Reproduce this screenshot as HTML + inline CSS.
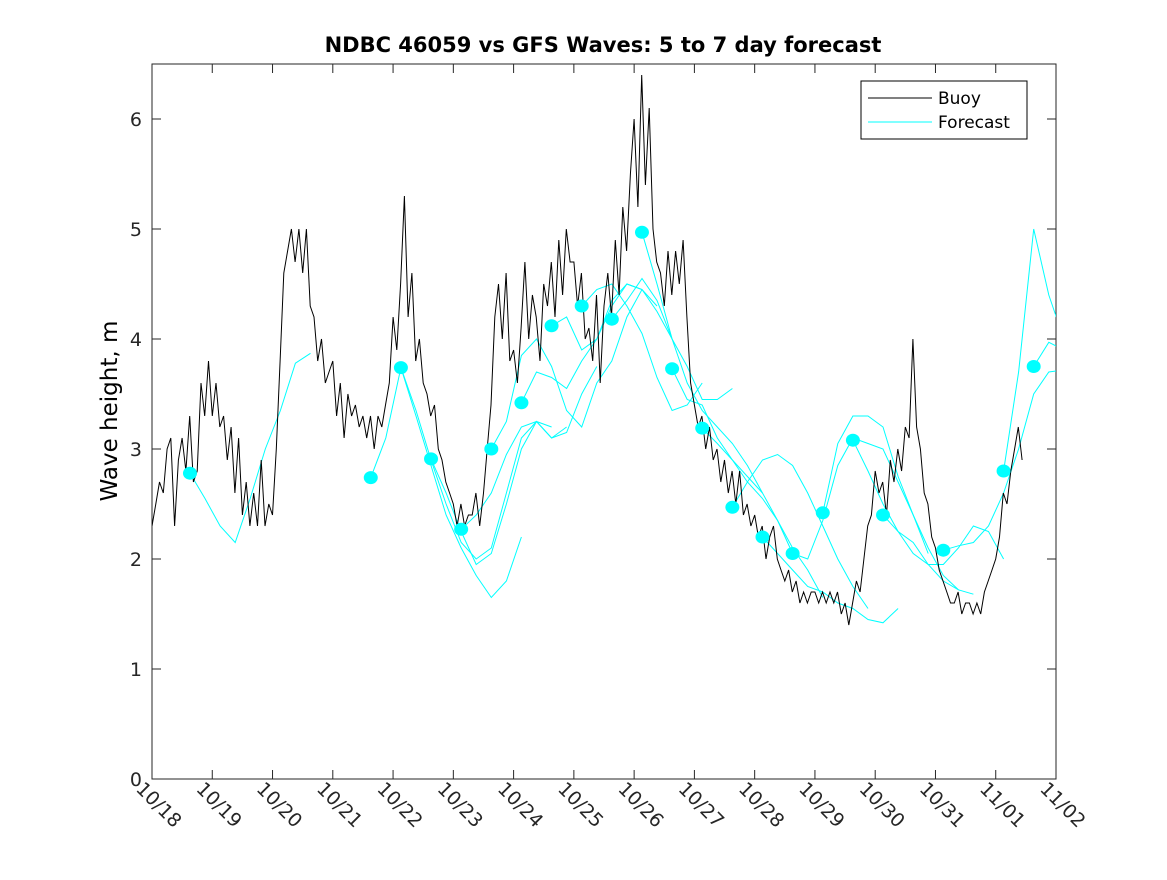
<!DOCTYPE html>
<html><head><meta charset="utf-8">
<style>
body{margin:0;background:#fff;}
svg text{font-family:"DejaVu Sans","Liberation Sans",sans-serif;}
</style></head>
<body>
<svg id="chart" width="1167" height="875" viewBox="0 0 1167 875" xmlns="http://www.w3.org/2000/svg">
<rect width="1167" height="875" fill="#fff"/>
<text x="603" y="52" text-anchor="middle" font-size="21" font-weight="bold">NDBC 46059 vs GFS Waves: 5 to 7 day forecast</text>
<text transform="translate(117,411) rotate(-90)" text-anchor="middle" font-size="23">Wave height, m</text>
<g id="axes"></g>
<g id="series"></g>
<g>
<rect x="861" y="81" width="166" height="58" fill="#fff" stroke="#000" stroke-width="1"/>
<line x1="868" y1="98" x2="932" y2="98" stroke="#000" stroke-width="1"/>
<text x="938" y="104" font-size="17">Buoy</text>
<line x1="868" y1="122" x2="932" y2="122" stroke="#00ffff" stroke-width="1"/>
<text x="938" y="128" font-size="17">Forecast</text>
</g>
</svg>
<script>
const xTickLabels=["10/18","10/19","10/20","10/21","10/22","10/23","10/24","10/25","10/26","10/27","10/28","10/29","10/30","10/31","11/01","11/02"];
const yTicks=[0,1,2,3,4,5,6];
const buoyStep=0.0625;
const buoyValues=[2.3,2.5,2.7,2.6,3.0,3.1,2.3,2.9,3.1,2.8,3.3,2.7,2.8,3.6,3.3,3.8,
3.3,3.6,3.2,3.3,2.9,3.2,2.6,3.1,2.4,2.7,2.3,2.6,2.3,2.9,2.3,2.5,
2.4,3.0,3.8,4.6,4.8,5.0,4.7,5.0,4.6,5.0,4.3,4.2,3.8,4.0,3.6,3.7,
3.8,3.3,3.6,3.1,3.5,3.3,3.4,3.2,3.3,3.1,3.3,3.0,3.3,3.2,3.4,3.6,
4.2,3.9,4.5,5.3,4.2,4.6,3.8,4.0,3.6,3.5,3.3,3.4,3.0,2.9,2.7,2.6,
2.5,2.3,2.5,2.3,2.4,2.4,2.6,2.3,2.6,3.0,3.4,4.2,4.5,4.0,4.6,3.8,
3.9,3.6,4.1,4.7,4.0,4.4,4.2,3.8,4.5,4.3,4.7,4.2,4.9,4.4,5.0,4.7,
4.7,4.3,4.6,4.0,4.1,3.8,4.4,3.6,4.3,4.6,4.2,4.9,4.4,5.2,4.8,5.5,
6.0,5.2,6.4,5.4,6.1,5.0,4.7,4.6,4.3,4.8,4.4,4.8,4.5,4.9,4.2,3.6,
3.4,3.2,3.3,3.0,3.2,2.9,3.0,2.7,2.9,2.6,2.8,2.5,2.8,2.4,2.5,2.3,
2.4,2.2,2.3,2.0,2.2,2.3,2.0,1.9,1.8,1.9,1.7,1.8,1.6,1.7,1.6,1.7,
1.7,1.6,1.7,1.6,1.7,1.6,1.7,1.5,1.6,1.4,1.6,1.8,1.7,2.0,2.3,2.4,
2.8,2.6,2.7,2.4,2.9,2.7,3.0,2.8,3.2,3.1,4.0,3.2,3.0,2.6,2.5,2.2,
2.1,1.9,1.8,1.7,1.6,1.6,1.7,1.5,1.6,1.6,1.5,1.6,1.5,1.7,1.8,1.9,
2.0,2.2,2.6,2.5,2.8,3.0,3.2,2.9];
const fcStep=0.25;
const fcStarts=[0.63,3.63,4.13,4.63,5.13,5.63,6.13,6.63,7.13,7.63,8.13,8.63,9.13,9.63,10.13,10.63,11.13,11.63,12.13,13.13,14.13,14.63];
const fcValues=[
[2.78,2.55,2.3,2.15,2.55,3.0,3.35,3.78,3.87],
[2.74,3.1,3.74,3.3,2.85,2.4,2.1,1.85,1.65,1.8,2.2],
[3.74,3.35,2.9,2.5,2.15,2.0,2.1,2.6,3.1,3.25,3.2],
[2.91,2.6,2.25,1.95,2.05,2.5,3.0,3.25,3.1,3.2],
[2.27,2.4,2.6,2.95,3.2,3.25,3.1,3.15,3.5,3.75],
[3.0,3.25,3.85,4.0,3.75,3.35,3.2,3.6,3.8,4.2,4.45],
[3.42,3.7,3.65,3.55,3.8,4.0,4.3,4.5,4.45,4.3],
[4.12,4.2,3.9,4.0,4.35,4.5,4.45,4.25,4.0],
[4.3,4.45,4.5,4.3,4.05,3.65,3.35,3.4,3.6],
[4.18,4.35,4.55,4.35,4.0,3.75,3.45,3.45,3.55],
[4.97,4.5,4.0,3.6,3.35,3.2,3.05,2.85,2.6],
[3.73,3.45,3.4,3.1,2.9,2.75,2.6,2.35,2.05],
[3.19,3.05,2.9,2.7,2.55,2.35,2.1,1.9,1.65],
[2.47,2.7,2.9,2.95,2.85,2.6,2.3,2.0,1.75,1.55],
[2.2,2.05,1.9,1.75,1.7,1.6,1.55,1.45,1.42,1.55],
[2.05,2.0,2.35,2.85,3.1,3.05,3.0,2.7,2.4,2.05],
[2.42,3.05,3.3,3.3,3.2,2.75,2.4,2.1,1.85,1.72],
[3.08,2.8,2.5,2.25,2.15,1.95,1.8,1.72,1.68],
[2.4,2.25,2.05,1.95,1.95,2.1,2.3,2.25,2.0],
[2.08,2.12,2.15,2.3,2.6,3.0,3.5,3.7,3.72],
[2.8,3.7,5.0,4.4,4.0],
[3.75,3.97,3.9,3.8]
];
const X0=152,X1=1056,Y0=779,Y1=64,DAYS=15,YMAX=6.5;
function xs(d){return X0+(X1-X0)*d/DAYS;}
function ys(v){return Y0-(Y0-Y1)*v/YMAX;}
const NS="http://www.w3.org/2000/svg";
function mk(tag,attrs,parent){const e=document.createElementNS(NS,tag);for(const k in attrs)e.setAttribute(k,attrs[k]);parent.appendChild(e);return e;}
const axes=document.getElementById('axes');
const series=document.getElementById('series');
const frame=mk('rect',{x:X0,y:Y1,width:X1-X0,height:Y0-Y1,fill:'none',stroke:'#262626','stroke-width':1},axes);


xTickLabels.forEach((lab,i)=>{
  const x=xs(i);
  mk('line',{x1:x,y1:Y0,x2:x,y2:Y0-9,stroke:'#262626'},axes);
  mk('line',{x1:x,y1:Y1,x2:x,y2:Y1+9,stroke:'#262626'},axes);
  const t=mk('text',{transform:`translate(${x-17},${Y0+11}) rotate(45)`,'font-size':19,fill:'#262626'},axes);
  t.textContent=lab;
  
  
});
yTicks.forEach(v=>{
  const y=ys(v);
  mk('line',{x1:X0,y1:y,x2:X0+9,y2:y,stroke:'#262626'},axes);
  mk('line',{x1:X1,y1:y,x2:X1-9,y2:y,stroke:'#262626'},axes);
  const t=mk('text',{x:X0-10,y:y+7,'text-anchor':'end','font-size':19,fill:'#262626'},axes);
  t.textContent=v;
  
  
});
const clip=mk('clipPath',{id:'pc'},series);
mk('rect',{x:X0,y:Y1,width:X1-X0,height:Y0-Y1},clip);
const g=mk('g',{'clip-path':'url(#pc)'},series);
fcValues.forEach((arr,i)=>{
  const pts=arr.map((v,j)=>xs(fcStarts[i]+j*fcStep).toFixed(1)+','+ys(v).toFixed(1)).join(' ');
  const pl=mk('polyline',{points:pts,fill:'none',stroke:'#00ffff','stroke-width':1},g);
  
  
});
const bp=buoyValues.map((v,j)=>xs(j*buoyStep).toFixed(1)+','+ys(v).toFixed(1)).join(' ');
const bl=mk('polyline',{points:bp,fill:'none',stroke:'#000','stroke-width':1},g);


fcValues.forEach((arr,i)=>{
  const c=mk('ellipse',{cx:xs(fcStarts[i]),cy:ys(arr[0]),rx:7,ry:6.5,fill:'#00ffff'},g);
  
  
});
</script>
</body></html>
